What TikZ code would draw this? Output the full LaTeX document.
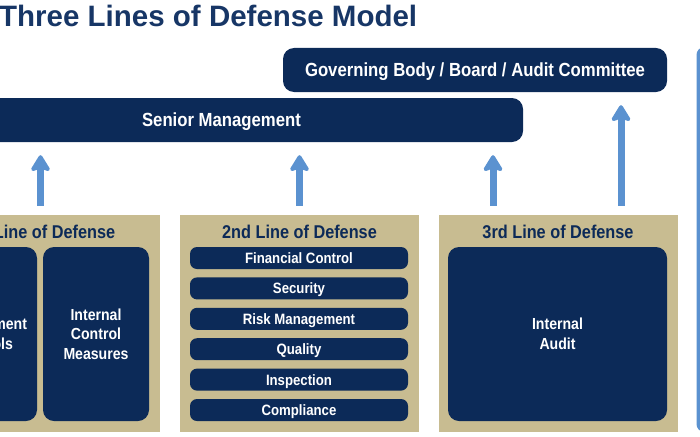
\documentclass[tikz,border=0pt]{standalone}
\usepackage{fontspec}
\setmainfont{Liberation Sans}[FakeStretch=0.88]
\newfontfamily\titlefont{Liberation Sans}
\usetikzlibrary{arrows.meta,%
                positioning}
\definecolor{navy}{HTML}{0C2A58}
\definecolor{tan}{HTML}{C8BC91}
\definecolor{arrowblue}{HTML}{5B92D0}
\definecolor{titlenavy}{HTML}{173666}

\begin{document}
\begin{tikzpicture}[x=1pt,y=-1pt]
  \tikzstyle{BarStyle}=[fill=navy,text=white,rounded corners=11pt,minimum height=44pt,
    inner sep=0pt,text height=13.6pt,text depth=0pt,font=\bfseries\fontsize{19}{22}\selectfont]
  \tikzstyle{LineStyle}=[fill=tan,minimum width=239pt,minimum height=217pt,inner sep=0pt]
  \tikzstyle{HeadStyle}=[anchor=base,inner sep=0pt,text=navy,font=\bfseries\fontsize{18.5}{22}\selectfont]
  \tikzstyle{InnerStyle}=[fill=navy,text=white,rounded corners=11pt,minimum height=174pt,
    inner sep=0pt,align=center,font=\bfseries\fontsize{16}{19.5}\selectfont]
  \tikzstyle{ItemStyle}=[fill=navy,text=white,rounded corners=7pt,minimum width=218pt,minimum height=22pt,
    inner sep=0pt,text height=10.8pt,text depth=0pt,font=\bfseries\fontsize{15}{18}\selectfont]
  \tikzstyle{UpArrow}=[draw=arrowblue,line width=7pt,-{Stealth[length=19pt,width=23pt,inset=4pt,round]},
    shorten <=9pt,shorten >=13pt]
  \useasboundingbox (0,0) rectangle (700,436);
  \clip (0,0) rectangle (700,436);
  \node[font=\titlefont\bfseries\fontsize{29.5}{34}\selectfont,text=titlenavy,anchor=base west,inner sep=0pt]
    (title) at (-1,27) {Three Lines of Defense Model};
  \node[BarStyle,minimum width=384pt] (board) at (475,70) {Governing Body / Board / Audit Committee};
  \node[BarStyle,minimum width=603pt] (senior) at (221.5,120) {Senior Management};
  % the three lines
  \node[LineStyle] (line1) at (40.5,323.5) {};
  \node[LineStyle] (line2) at (299.5,323.5) {};
  \node[LineStyle] (line3) at (558,323.5) {};
  \node[HeadStyle] (head1) at (40.5,238) {1st Line of Defense};
  \node[HeadStyle] (head2) at (299.5,238) {2nd Line of Defense};
  \node[HeadStyle] (head3) at (558,238) {3rd Line of Defense};
  \node[InnerStyle,minimum width=106pt] (mgmt) at (-16,334) {Management\\Controls};
  \node[InnerStyle,minimum width=106pt] (measures) at (96,334) {Internal\\Control\\Measures};
  \foreach \name [count=\i] in {Financial Control,Security,Risk Management,Quality,Inspection,Compliance}
    \node[ItemStyle] (item\i) at (299,227.6+30.4*\i) {\name};
  \node[InnerStyle,minimum width=219pt] (audit) at (557.5,334) {Internal\\Audit};
  % arrows
  \draw[UpArrow] (line1.north) -- (line1.north |- senior.south);
  \draw[UpArrow] (line2.north) -- (line2.north |- senior.south);
  \draw[UpArrow] ([xshift=-65pt]line3.north) -- ([xshift=-65pt]line3.north |- senior.south);
  \draw[UpArrow] ([xshift=63pt]line3.north) -- ([xshift=63pt]line3.north |- board.south);
  \draw[arrowblue,line width=4pt,rounded corners=6pt] (698.5,49) rectangle (780,430);
\end{tikzpicture}
\end{document}
